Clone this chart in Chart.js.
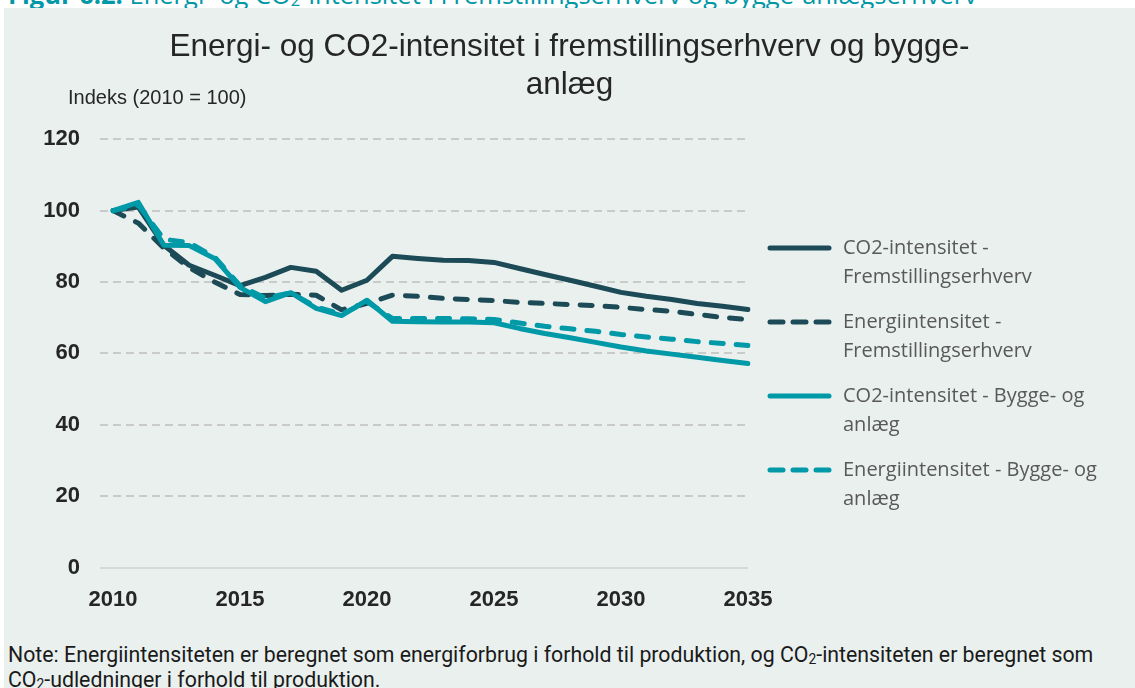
<!DOCTYPE html>
<html>
<head>
<meta charset="utf-8">
<script src="https://cdn.jsdelivr.net/npm/chart.js@4/dist/chart.umd.min.js"></script>
<style>
  body { margin: 0; background: #fff; width: 1135px; height: 688px; overflow: hidden; position: relative; }
  #caption { position: absolute; left: 8px; top: -18px; font: 25.5px "Open Sans", sans-serif; line-height: 25px; color: #0097a7; white-space: nowrap; }
  #panel { position: absolute; left: 4px; top: 8px; width: 1131px; height: 680px; background: #e9f0ee; }
  #note { position: absolute; left: 4px; top: 634px; font: 21.3px Roboto, sans-serif; line-height: 25px; color: #1a1a1a; white-space: nowrap; }
  #note sub, #caption sub { font-size: 65%; vertical-align: -2px; line-height: 0; }
</style>
</head>
<body>
<div id="caption"><b>Figur 6.2:</b> Energi- og CO<sub>2</sub>-intensitet i Fremstillingserhverv og bygge-anlægserhverv</div>
<div id="panel">
  <canvas id="chart" width="1131" height="624"></canvas>
  <div id="note">Note: Energiintensiteten er beregnet som energiforbrug i forhold til produktion, og CO<sub>2</sub>-intensiteten er beregnet som<br>CO<sub>2</sub>-udledninger i forhold til produktion.</div>
</div>
<script>
const years = ['2010', '2011', '2012', '2013', '2014', '2015', '2016', '2017', '2018', '2019', '2020', '2021', '2022',
  '2023', '2024', '2025', '2026', '2027', '2028', '2029', '2030', '2031', '2032', '2033', '2034', '2035'];

const co2Frem = [100, 101, 90.3, 84.7, 81.9, 79, 81.3, 84.1, 83, 77.7, 80.5, 87.2, 86.6,
  86.1, 86, 85.5, 83.8, 82.1, 80.5, 78.8, 77.1, 76, 75.1, 74, 73.2, 72.3];
const energiFrem = [100, 96.5, 89.5, 84, 80, 76.5, 76.2, 76.6, 76.3, 72.2, 74, 76.3, 76,
  75.4, 75.1, 74.8, 74.3, 74, 73.7, 73.4, 72.9, 72.3, 71.8, 70.9, 70.1, 69.5];
const co2Bygge = [100, 102.3, 90.3, 90.2, 86.6, 78.5, 74.5, 77, 72.6, 70.6, 74.9, 69, 68.9,
  68.8, 68.8, 68.6, 67, 65.6, 64.4, 63.1, 61.8, 60.7, 59.8, 58.9, 58, 57.2];
const energiBygge = [100, 101.5, 92, 91, 87, 79, 75.5, 77, 73, 71, 74.5, 69.8, 69.8,
  69.8, 69.7, 69.5, 68.5, 67.6, 66.9, 66.2, 65.3, 64.6, 64, 63.3, 62.8, 62.2];

const seriesNames = [
  'CO2-intensitet - Fremstillingserhverv',
  'Energiintensitet - Fremstillingserhverv',
  'CO2-intensitet - Bygge- og anlæg',
  'Energiintensitet - Bygge- og anlæg'
];
// legend text as it wraps in the original
const legendLines = [
  ['CO2-intensitet -', 'Fremstillingserhverv'],
  ['Energiintensitet -', 'Fremstillingserhverv'],
  ['CO2-intensitet - Bygge- og', 'anlæg'],
  ['Energiintensitet - Bygge- og', 'anlæg']
];
const titleLines = ['Energi- og CO2-intensitet i fremstillingserhverv og bygge-', 'anlæg'];
const unitLabel = 'Indeks (2010 = 100)';

document.addEventListener('DOMContentLoaded', function() {
  const dark = '#1c4a56';
  const teal = '#0099a8';
  const dash = [12, 13];

  function lineSet(label, data, color, dashed, order) {
    return {
      label: label,
      data: data,
      borderColor: color,
      backgroundColor: color,
      borderWidth: 5,
      borderDash: dashed ? dash : [],
      borderCapStyle: 'round',
      borderJoinStyle: 'round',
      pointRadius: 0,
      tension: 0,
      fill: false,
      order: order
    };
  }

  // draws the unit label and the wrapped legend on the right
  const extraText = {
    id: 'extraText',
    afterDraw(chart) {
      const ctx = chart.ctx;
      const area = chart.chartArea;
      ctx.save();
      ctx.font = '20px "Liberation Sans"';
      ctx.fillStyle = '#262626';
      ctx.textBaseline = 'middle';
      ctx.textAlign = 'left';
      ctx.fillText(unitLabel, 64, 90);

      const x0 = area.right + 22;
      chart.data.datasets.forEach((ds, i) => {
        const y = 240 + i * 74;
        ctx.beginPath();
        ctx.lineWidth = 5;
        ctx.lineCap = 'round';
        ctx.strokeStyle = ds.borderColor;
        ctx.setLineDash(ds.borderDash.length ? [13, 10] : []);
        ctx.moveTo(x0, y);
        ctx.lineTo(x0 + 59, y);
        ctx.stroke();
        ctx.setLineDash([]);
        ctx.font = '20px "Open Sans"';
        ctx.fillStyle = '#595959';
        legendLines[i].forEach((t, j) => ctx.fillText(t, x0 + 73, y + j * 29));
      });
      ctx.restore();
    }
  };

  const ctx = document.getElementById('chart').getContext('2d');
  new Chart(ctx, {
    type: 'line',
    data: {
      labels: years,
      datasets: [
        lineSet(seriesNames[0], co2Frem, dark, false, 4),
        lineSet(seriesNames[1], energiFrem, dark, true, 3),
        lineSet(seriesNames[2], co2Bygge, teal, false, 2),
        lineSet(seriesNames[3], energiBygge, teal, true, 1)
      ]
    },
    options: {
      responsive: false,
      animation: false,
      layout: { padding: 0 },
      plugins: {
        legend: { display: false },
        tooltip: { enabled: false },
        title: {
          display: true,
          text: titleLines,
          color: '#262626',
          font: { family: 'Liberation Sans', size: 31.5, weight: 'normal', lineHeight: 1.21 },
          padding: { top: 20, bottom: 35 }
        }
      },
      scales: {
        x: {
          grid: { display: false, drawTicks: false },
          border: { display: false },
          ticks: {
            autoSkip: false,
            maxRotation: 0,
            padding: 19,
            color: '#262626',
            font: { family: 'Liberation Sans', size: 22, weight: 'bold' },
            callback: function(val, i) {
              return Number(years[i]) % 5 === 0 ? years[i] : '';
            }
          }
        },
        y: {
          min: 0,
          max: 120,
          afterFit: function(scale) { scale.width = 109; },
          ticks: {
            stepSize: 20,
            padding: 20,
            color: '#262626',
            font: { family: 'Liberation Sans', size: 22, weight: 'bold' }
          },
          grid: {
            lineWidth: 2,
            tickLength: 13,
            color: c => c.tick && c.tick.value === 0 ? '#d6d9d8' : '#c8cbca',
            tickColor: c => c.tick && c.tick.value === 0 ? '#d6d9d8' : '#c8cbca',
            tickBorderDash: c => c.tick && c.tick.value === 0 ? [] : [8, 5]
          },
          border: {
            display: false,
            dash: c => c.tick && c.tick.value === 0 ? [] : [8, 5]
          }
        },
        spacer: {
          type: 'linear',
          position: 'right',
          min: 0,
          max: 1,
          afterFit: function(scale) { scale.width = 387; },
          ticks: { display: false },
          grid: { display: false, drawTicks: false },
          border: { display: false }
        }
      }
    },
    plugins: [extraText]
  });
});
</script>
</body>
</html>
